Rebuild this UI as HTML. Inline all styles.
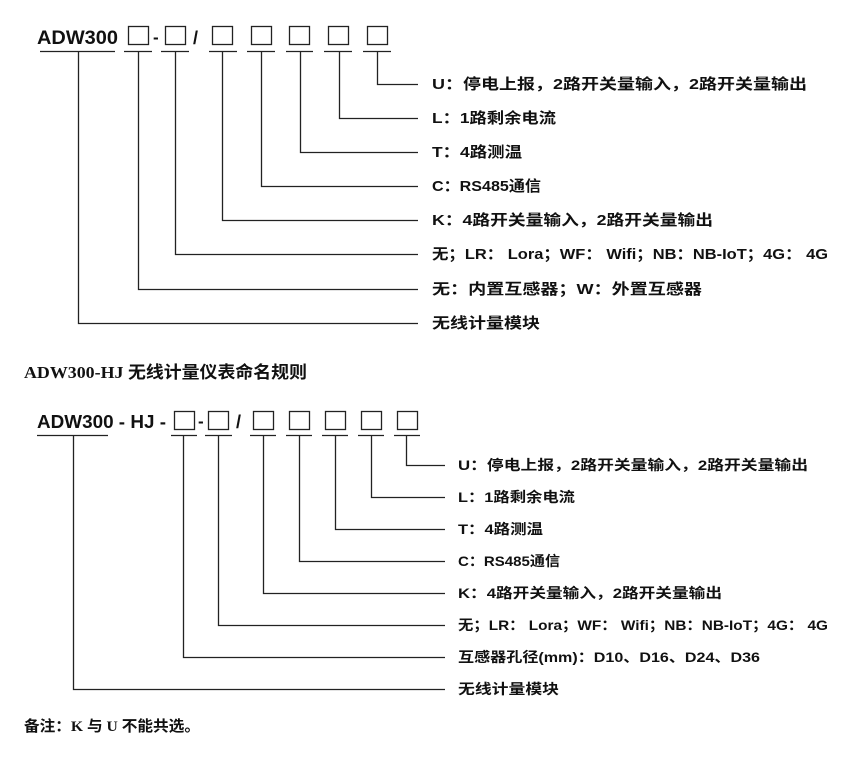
<!DOCTYPE html>
<html><head><meta charset="utf-8"><style>
body{margin:0;background:#fff;}
svg{display:block}
.t{font-family:"Liberation Sans","Noto Sans CJK SC",sans-serif;font-weight:bold;fill:#111}
.s{font-family:"Liberation Serif","Noto Sans CJK SC",serif;font-weight:bold;fill:#111}
</style></head><body>
<svg width="862" height="762" xmlns="http://www.w3.org/2000/svg">
<g stroke="#222" stroke-width="1.3" fill="none">
<rect x="128.5" y="26.5" width="20" height="18"/>
<rect x="165.5" y="26.5" width="20" height="18"/>
<rect x="212.5" y="26.5" width="20" height="18"/>
<rect x="251.5" y="26.5" width="20" height="18"/>
<rect x="289.5" y="26.5" width="20" height="18"/>
<rect x="328.5" y="26.5" width="20" height="18"/>
<rect x="367.5" y="26.5" width="20" height="18"/>
<path d="M40 51.5H115M124 51.5H152M161 51.5H189M209 51.5H237M247 51.5H275M286 51.5H313M324 51.5H352M363 51.5H391"/>
<path d="M377.5 51V84.5H418M339.5 51V118.5H418M300.5 51V152.5H418M261.5 51V186.5H418M222.5 51V220.5H418M175.5 51V254.5H418M138.5 51V289.5H418M78.5 51V323.5H418"/>
<rect x="174.5" y="411.5" width="20" height="18"/>
<rect x="208.5" y="411.5" width="20" height="18"/>
<rect x="253.5" y="411.5" width="20" height="18"/>
<rect x="289.5" y="411.5" width="20" height="18"/>
<rect x="325.5" y="411.5" width="20" height="18"/>
<rect x="361.5" y="411.5" width="20" height="18"/>
<rect x="397.5" y="411.5" width="20" height="18"/>
<path d="M37 435.5H108M171 435.5H197M205 435.5H232M250 435.5H276M286 435.5H312M322 435.5H348M358 435.5H384M394 435.5H420"/>
<path d="M406.5 435V465.5H445M371.5 435V497.5H445M335.5 435V529.5H445M299.5 435V561.5H445M263.5 435V593.5H445M218.5 435V625.5H445M183.5 435V657.5H445M73.5 435V689.5H445"/>
</g>
<text class="t" x="37" y="44" font-size="19" textLength="81" lengthAdjust="spacingAndGlyphs">ADW300</text>
<text class="t" x="153" y="43" font-size="17">-</text>
<text class="t" x="193" y="44" font-size="18">/</text>
<g class="t" font-size="15" lengthAdjust="spacingAndGlyphs">
<text x="432" y="89" textLength="375" lengthAdjust="spacingAndGlyphs">U：停电上报，2路开关量输入，2路开关量输出</text>
<text x="432" y="123" textLength="124" lengthAdjust="spacingAndGlyphs">L：1路剩余电流</text>
<text x="432" y="157" textLength="90" lengthAdjust="spacingAndGlyphs">T：4路测温</text>
<text x="432" y="191" textLength="109" lengthAdjust="spacingAndGlyphs">C：RS485通信</text>
<text x="432" y="225" textLength="281" lengthAdjust="spacingAndGlyphs">K：4路开关量输入，2路开关量输出</text>
<text x="432" y="259" textLength="396" lengthAdjust="spacingAndGlyphs">无；LR： Lora；WF： Wifi；NB：NB-IoT；4G： 4G</text>
<text x="432" y="294" textLength="270" lengthAdjust="spacingAndGlyphs">无：内置互感器；W：外置互感器</text>
<text x="432" y="328" textLength="108" lengthAdjust="spacingAndGlyphs">无线计量模块</text>
</g>
<text class="s" x="24" y="378" font-size="17" textLength="283" lengthAdjust="spacingAndGlyphs">ADW300-HJ 无线计量仪表命名规则</text>
<text class="t" x="37" y="428" font-size="18" textLength="129" lengthAdjust="spacingAndGlyphs">ADW300 - HJ  -</text>
<text class="t" x="198" y="427" font-size="17">-</text>
<text class="t" x="236" y="428" font-size="18">/</text>
<g class="t" font-size="14">
<text x="458" y="470" textLength="350" lengthAdjust="spacingAndGlyphs">U：停电上报，2路开关量输入，2路开关量输出</text>
<text x="458" y="502" textLength="117" lengthAdjust="spacingAndGlyphs">L：1路剩余电流</text>
<text x="458" y="534" textLength="85" lengthAdjust="spacingAndGlyphs">T：4路测温</text>
<text x="458" y="566" textLength="102" lengthAdjust="spacingAndGlyphs">C：RS485通信</text>
<text x="458" y="598" textLength="264" lengthAdjust="spacingAndGlyphs">K：4路开关量输入，2路开关量输出</text>
<text x="458" y="630" textLength="370" lengthAdjust="spacingAndGlyphs">无；LR： Lora；WF： Wifi；NB：NB-IoT；4G： 4G</text>
<text x="458" y="662" textLength="302" lengthAdjust="spacingAndGlyphs">互感器孔径(mm)：D10、D16、D24、D36</text>
<text x="458" y="694" textLength="101" lengthAdjust="spacingAndGlyphs">无线计量模块</text>
</g>
<text class="s" x="24" y="731" font-size="15" textLength="176" lengthAdjust="spacingAndGlyphs">备注：K 与 U 不能共选。</text>
</svg>
</body></html>
